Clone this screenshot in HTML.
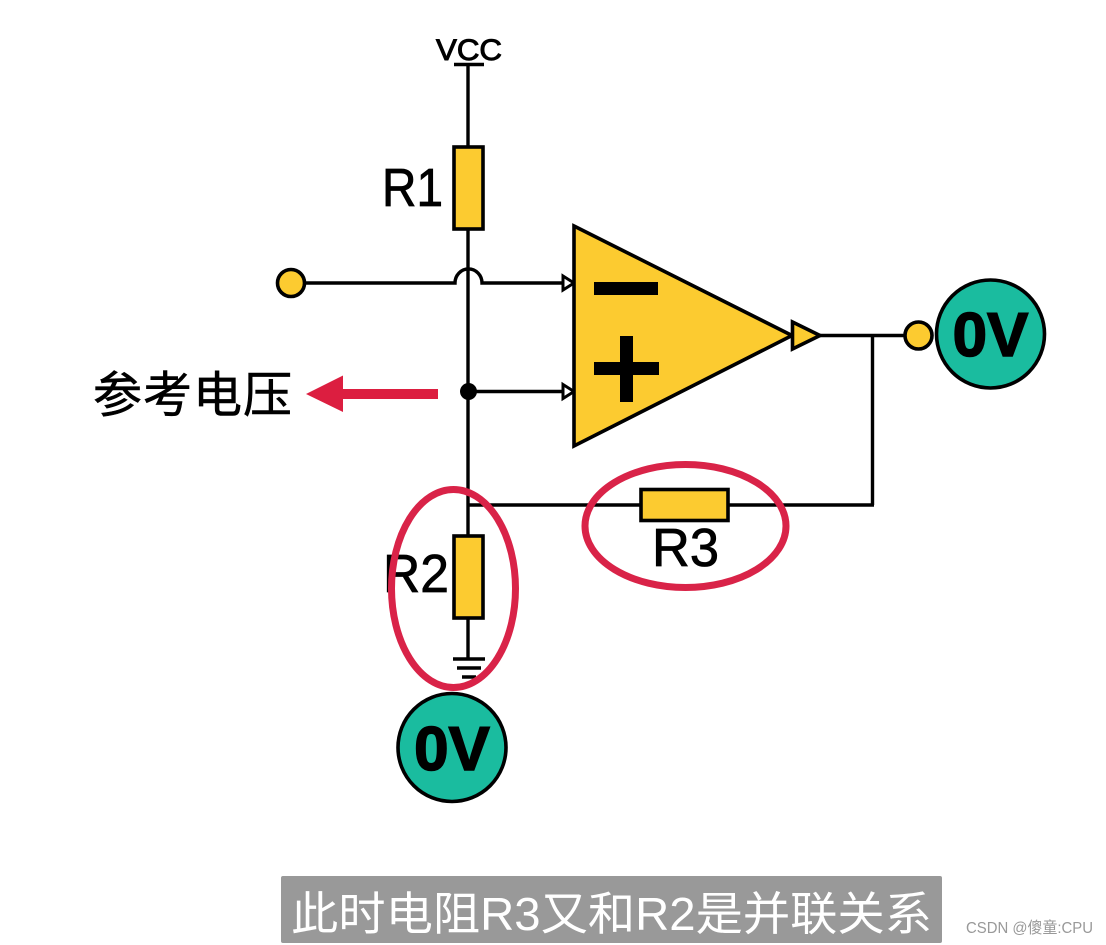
<!DOCTYPE html>
<html><head><meta charset="utf-8"><style>
html,body{margin:0;padding:0;background:#fff}
svg{display:block}
text{font-family:"Liberation Sans","Noto Sans CJK SC",sans-serif}
</style></head><body>
<svg width="1106" height="945" viewBox="0 0 1106 945" xmlns="http://www.w3.org/2000/svg">
<g stroke="#000" stroke-width="3.400" fill="none">
<path d="M468 64V505M468 505V660"/>
<path d="M454 64.500H484" />
<path d="M304 283H455a13 13.500 0 0 1 27 0H566"/>
<path d="M468 391.500H566"/>
<path d="M820 335.500H905M872.500 335.500V505M468 505H874"/>
<path d="M453 659H485M457 668H481M462 677H476"/>
</g>
<path d="M563 276L574 283L563 290Z M563 384.500L574 391.500L563 398.500Z" fill="#fff" stroke="#000" stroke-width="3"/>
<circle cx="468.500" cy="391.500" r="8.500" fill="#000"/>
<g stroke="#000" stroke-width="3.600" fill="#fccb30" stroke-linejoin="miter">
<rect x="454" y="147" width="29" height="82"/>
<rect x="454" y="536" width="29" height="82"/>
<rect x="641" y="489.500" width="87" height="31"/>
<path d="M574 226L792 335.500L574 446Z"/>
<path d="M792.500 322L820 335.500L792.500 349Z"/>
<circle cx="291" cy="283" r="13.500"/>
<circle cx="918.500" cy="335.500" r="13.500"/>
</g>
<rect x="594" y="282" width="64" height="13" fill="#000"/>
<rect x="594" y="362" width="65" height="13" fill="#000"/>
<rect x="620" y="336" width="13" height="66" fill="#000"/>
<g stroke="#000" stroke-width="3.600" fill="#1abc9f">
<circle cx="990.500" cy="334" r="54"/>
<circle cx="452" cy="747.500" r="54"/>
</g>
<text x="990.500" y="356" text-anchor="middle" font-size="62" font-weight="700" fill="#000" stroke="#000" stroke-width="1.500">0V</text>
<text x="452" y="770" text-anchor="middle" font-size="62" font-weight="700" fill="#000" stroke="#000" stroke-width="1.500">0V</text>
<text x="469" y="60" text-anchor="middle" font-size="30" fill="#000" stroke="#000" stroke-width="1" textLength="66" lengthAdjust="spacingAndGlyphs">VCC</text>
<text x="382" y="206" font-size="54" fill="#000" stroke="#000" stroke-width="0.800" textLength="61" lengthAdjust="spacingAndGlyphs">R1</text>
<text x="383" y="592" font-size="54" fill="#000" stroke="#000" stroke-width="0.800" textLength="66" lengthAdjust="spacingAndGlyphs">R2</text>
<text x="652" y="566" font-size="54" fill="#000" stroke="#000" stroke-width="0.800" textLength="67" lengthAdjust="spacingAndGlyphs">R3</text>
<text x="93" y="412" font-size="49" fill="#000" stroke="#000" stroke-width="0.600" textLength="199" lengthAdjust="spacing">参考电压</text>
<path d="M438 389V399H343V412L306 394L343 375.500V389Z" fill="#dc1e40"/>
<ellipse cx="453.500" cy="588.500" rx="62" ry="99" fill="none" stroke="#d92348" stroke-width="7"/>
<ellipse cx="685.500" cy="526" rx="100.500" ry="61.500" fill="none" stroke="#d92348" stroke-width="7"/>
<rect x="281" y="876" width="661" height="67" rx="2" fill="#999"/>
<text x="291" y="930" font-size="46" fill="#fff" textLength="641" lengthAdjust="spacingAndGlyphs">此时电阻R3又和R2是并联关系</text>
<text x="966" y="933" font-size="16" fill="#999" textLength="127" lengthAdjust="spacingAndGlyphs">CSDN @傻童:CPU</text>
</svg>
</body></html>
